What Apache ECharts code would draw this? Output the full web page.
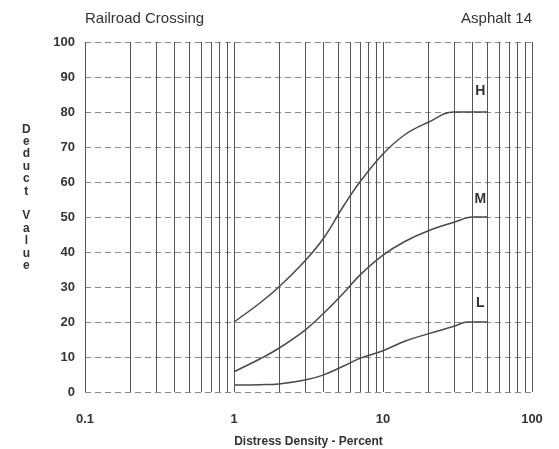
<!DOCTYPE html>
<html>
<head>
<meta charset="utf-8">
<script src="https://cdn.jsdelivr.net/npm/echarts@6/dist/echarts.min.js"></script>
<style>
html,body{margin:0;padding:0;background:#fff;}
#chart{width:559px;height:449px;}
</style>
</head>
<body>
<div id="chart"></div>
<script>
// ---- data ----
var titleLeft = "Railroad Crossing";
var titleRight = "Asphalt 14";
var xAxisName = "Distress Density - Percent";
var yAxisName = "Deduct Value";
var xTickLabels = [0.1, 1, 10, 100];
var gridX = [0.1,0.2,0.3,0.4,0.5,0.6,0.7,0.8,0.9,1,2,3,4,5,6,7,8,9,10,20,30,40,50,60,70,80,90,100];
var densityH = [1,1.5,2,3,4,5.5,7,10,14,20,30,50];
var valueH   = [20,25.5,30,37.5,44,53.5,60,68,73.5,77,80,80];
var densityM = [1,1.5,2,3,4,5.5,7,10,14,20,30,40,50];
var valueM   = [5.8,9.5,12.5,17.7,22.5,28.5,33.4,39.1,43,46,48.5,50,50];
var densityL = [1,1.5,2,3,4,5.5,7,10,14,20,30,37,50];
var valueL   = [2,2.1,2.3,3.4,4.9,7.5,9.6,11.8,14.5,16.6,18.8,20,20];
var curveNames = ["H","M","L"];
var labelAt = [[45,86],[45,55],[45,25.5]];

function pairs(xs, ys){ return xs.map(function(x,i){ return [x, ys[i]]; }); }

var chart = echarts.init(document.getElementById('chart'), null, {renderer:'canvas'});
var font = '"Liberation Sans", Arial, sans-serif';
var lineColor = '#4a4a4a';

function curve(name, xs, ys, lab){
  return {
    type:'line', name:name, data: pairs(xs, ys), smooth:0.4,
    symbol:'none', silent:true,
    lineStyle:{color:lineColor, width:1.5},
    markPoint:{
      symbol:'circle', symbolSize:0, silent:true,
      label:{show:true, formatter:name, color:'#333', fontFamily:font, fontWeight:'bold', fontSize:14, position:'inside'},
      data:[{coord: lab}]
    },
    z:5
  };
}

var option = {
  backgroundColor:'#fff',
  animation:false,
  grid:{left:85, right:27, top:42, bottom:57, containLabel:false, outerBoundsMode:'none'},
  xAxis:{
    type:'log', logBase:10, min:0.1, max:100,
    name:xAxisName, nameLocation:'middle', nameGap:44,
    nameTextStyle:{fontFamily:font, fontWeight:'bold', fontSize:12, color:'#333'},
    axisLine:{show:false}, axisTick:{show:false}, splitLine:{show:false},
    axisLabel:{fontFamily:font, fontWeight:'bold', fontSize:13, color:'#333', margin:21,
      formatter:function(v){ var r = xTickLabels.filter(function(t){return Math.abs(Math.log10(t)-Math.log10(v))<1e-6;}); return r.length? String(r[0]) : ''; }}
  },
  yAxis:{
    type:'value', min:0, max:100, interval:10,
    axisLine:{show:false}, axisTick:{show:false},
    axisLabel:{fontFamily:font, fontWeight:'bold', fontSize:13, color:'#333', margin:10},
    splitLine:{show:true, lineStyle:{color:'#8a8a8a', type:[6,4], width:1}}
  },
  graphic:[
    {type:'text', left:85, top:11, style:{text:titleLeft, font:'15px '+font, fill:'#333'}},
    {type:'text', right:27, top:11, style:{text:titleRight, font:'15px '+font, fill:'#333', textAlign:'right'}},
    {type:'text', left:22, top:123, style:{
      text: yAxisName.split('').map(function(c){return c===' '?'':c;}).join('\n'),
      font:'bold 12px '+font, fill:'#333', lineHeight:12.4, textAlign:'center', x:6}}
  ],
  series:[
    {
      type:'line', data:[], silent:true,
      markLine:{
        silent:true, symbol:['none','none'], label:{show:false},
        lineStyle:{color:'#555', type:'solid', width:1},
        data: gridX.map(function(x){ return {xAxis:x}; })
      }
    },
    curve(curveNames[0], densityH, valueH, labelAt[0]),
    curve(curveNames[1], densityM, valueM, labelAt[1]),
    curve(curveNames[2], densityL, valueL, labelAt[2])
  ]
};
chart.setOption(option);
</script>
</body>
</html>
